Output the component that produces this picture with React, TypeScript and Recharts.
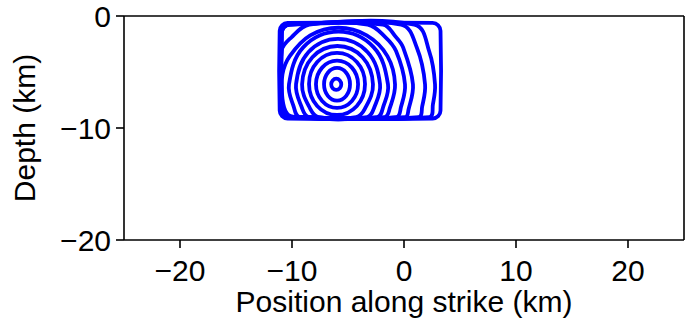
import React from 'react';
import { LineChart, Line, XAxis, YAxis, ReferenceLine, Label } from 'recharts';

// axis ticks
const xTicks = [-20, -10, 0, 10, 20];
const yTicks = [0, -10, -20];

// rupture-front contours, [position along strike (km), depth (km)]
const ring1 = [[-5.6, -6.1], [-5.73, -5.75], [-6.05, -5.6], [-6.37, -5.75], [-6.5, -6.1], [-6.37, -6.45], [-6.05, -6.6], [-5.73, -6.45]];
const ring2 = [[-4.82, -6.1], [-5.16, -5.07], [-5.98, -4.64], [-6.8, -5.07], [-7.14, -6.1], [-6.8, -7.13], [-5.98, -7.56], [-5.16, -7.13]];
const ring3 = [[-4.1, -6.1], [-4.65, -4.61], [-5.98, -3.99], [-7.31, -4.61], [-7.86, -6.1], [-7.31, -7.59], [-5.98, -8.21], [-4.65, -7.59]];
const ring4 = [[-3.48, -6.07], [-4.21, -4.11], [-5.98, -3.3], [-7.75, -4.11], [-8.48, -6.07], [-7.75, -8.03], [-5.98, -8.84], [-4.21, -8.03]];
const ring5 = [[-2.77, -6.1], [-3.7, -3.68], [-5.95, -2.68], [-8.18, -3.68], [-9.1, -6.1], [-8.36, -8.32], [-7.63, -9.02], [-4.27, -9.02], [-3.51, -8.32]];
const ring6 = [[-2.14, -6.1], [-3.24, -3.24], [-5.9, -2.05], [-8.54, -3.24], [-9.64, -6.1], [-9.14, -8.13], [-8.5, -9.02], [-3.3, -9.02], [-2.64, -8.13]];
const ring7 = [[-1.43, -6.1], [-2.72, -2.78], [-5.85, -1.4], [-8.98, -2.78], [-10.27, -6.1], [-9.85, -8.09], [-9.31, -9.02], [-2.39, -9.02], [-1.85, -8.09]];
const ring8 = [[-0.8, -6.1], [-1.48, -3.58], [-3.33, -1.73], [-5.85, -1.05], [-8.37, -1.73], [-10.2, -3.58], [-10.85, -5.2], [-10.85, -7.4], [-10.45, -8.7], [-9.7, -9.02], [-1.73, -9.02], [-1.27, -8.23]];
const ring9 = [[0.09, -6.1], [-0.71, -3.13], [-1.65, -1.9], [-3.25, -0.76], [-8.45, -0.76], [-10.05, -1.9], [-10.92, -3.1], [-10.92, -8.4], [-10.7, -8.82], [-10.2, -9.02], [-0.68, -9.02], [-0.27, -8.13]];
const ring10 = [[0.8, -6.1], [-0.09, -2.78], [-0.76, -1.83], [-1.89, -0.76], [-10.2, -0.76], [-10.7, -0.98], [-10.92, -1.5], [-10.92, -8.4], [-10.7, -8.82], [-10.2, -9.02], [0.12, -9.02], [0.4, -8.37]];
const ring11 = [[1.88, -6.1], [1.15, -2.83], [-0.26, -0.76], [-10.2, -0.76], [-10.7, -0.98], [-10.92, -1.5], [-10.92, -8.4], [-10.7, -8.82], [-10.2, -9.02], [1.31, -9.02], [1.62, -8.1]];
const ring12 = [[2.77, -6.1], [2.25, -3.15], [0.92, -0.76], [-10.2, -0.76], [-10.7, -0.98], [-10.92, -1.5], [-10.92, -8.4], [-10.7, -8.82], [-10.2, -9.02], [2.26, -9.02], [2.58, -7.89]];
const ring13 = [[-10.4, -0.62], [2.56, -0.62], [3.05, -0.83], [3.26, -1.32], [3.26, -8.45], [3.05, -8.94], [2.56, -9.15], [-10.4, -9.15], [-10.89, -8.94], [-11.1, -8.45], [-11.1, -1.32], [-10.89, -0.83]];

const rings = [ring1, ring2, ring3, ring4, ring5, ring6, ring7, ring8, ring9, ring10, ring11, ring12, ring13];

// closed smooth curve through every point (bezier handles sized by segment length)
function smoothClosed(context: any) {
  let pts: number[][] = [];
  return {
    areaStart() {},
    areaEnd() {},
    lineStart() {
      pts = [];
    },
    point(x: number, y: number) {
      pts.push([x, y]);
    },
    lineEnd() {
      const n = pts.length;
      if (!n) return;
      const tan = pts.map((_, i) => {
        const a = pts[(i - 1 + n) % n];
        const b = pts[(i + 1) % n];
        const dx = b[0] - a[0];
        const dy = b[1] - a[1];
        const len = Math.hypot(dx, dy) || 1;
        return [dx / len, dy / len];
      });
      context.moveTo(pts[0][0], pts[0][1]);
      for (let i = 0; i < n; i++) {
        const p = pts[i];
        const q = pts[(i + 1) % n];
        const d = Math.hypot(q[0] - p[0], q[1] - p[1]) * 0.36;
        const t1 = tan[i];
        const t2 = tan[(i + 1) % n];
        context.bezierCurveTo(p[0] + t1[0] * d, p[1] + t1[1] * d, q[0] - t2[0] * d, q[1] - t2[1] * d, q[0], q[1]);
      }
      context.closePath();
    },
  };
}

const fmt = (v: number) => (v < 0 ? `\u2212${Math.abs(v)}` : `${v}`);

const FONT = '"Liberation Sans", Arial, sans-serif';
const tickStyle = { fill: '#000', fontSize: 30, fontFamily: FONT };

export default function App() {
  return (
    <div style={{ position: 'absolute', left: 0, top: 0, width: 687, height: 326, background: '#fff' }}>
      <LineChart
        width={687}
        height={326}
        margin={{ top: 16, right: 3, bottom: 0, left: 0 }}
        style={{ fontFamily: FONT }}
      >
        <XAxis
          type="number"
          dataKey="x"
          domain={[-25, 25]}
          ticks={xTicks}
          interval={0}
          allowDataOverflow
          tickFormatter={fmt}
          tick={tickStyle}
          tickSize={8}
          tickMargin={12}
          height={86}
          axisLine={{ stroke: '#000', strokeWidth: 1.6 }}
          tickLine={{ stroke: '#000', strokeWidth: 1.6 }}
        >
          <Label value="Position along strike (km)" position="insideBottom" offset={14} fill="#000" fontSize={30} fontFamily={FONT} />
        </XAxis>
        <YAxis
          type="number"
          dataKey="y"
          domain={[-20, 0]}
          ticks={yTicks}
          interval={0}
          allowDataOverflow
          tickFormatter={fmt}
          tick={tickStyle}
          tickSize={8}
          tickMargin={5}
          width={124}
          axisLine={{ stroke: '#000', strokeWidth: 1.6 }}
          tickLine={{ stroke: '#000', strokeWidth: 1.6 }}
        >
          <Label value="Depth (km)" angle={-90} position="center" dx={-37.6} fill="#000" fontSize={30} fontFamily={FONT} />
        </YAxis>
        <ReferenceLine y={0} stroke="#000" strokeWidth={1.6} />
        <ReferenceLine x={25} stroke="#000" strokeWidth={1.6} />
        {rings.map((r, i) => (
          <Line
            key={i}
            data={r.map(([x, y]) => ({ x, y }))}
            dataKey="y"
            type={smoothClosed as any}
            stroke="#0000ff"
            strokeWidth={3.8}
            dot={false}
            activeDot={false}
            isAnimationActive={false}
          />
        ))}
      </LineChart>
    </div>
  );
}
